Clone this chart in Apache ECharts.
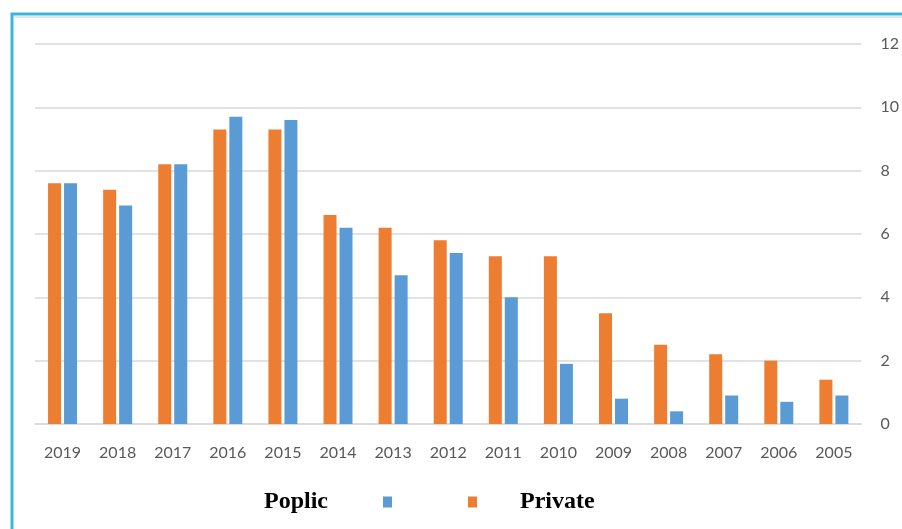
<!DOCTYPE html>
<html>
<head>
<meta charset="utf-8">
<script src="https://cdn.jsdelivr.net/npm/echarts@6/dist/echarts.min.js"></script>
<style>
    html, body { margin: 0; padding: 0; background: #fff; }
    #chart { width: 902px; height: 529px; }
</style>
</head>
<body>
<div id="chart"></div>
<script>
var years = ['2019', '2018', '2017', '2016', '2015', '2014', '2013', '2012', '2011', '2010', '2009', '2008', '2007', '2006', '2005'];
var privateVals = [7.6, 7.4, 8.2, 9.3, 9.3, 6.6, 6.2, 5.8, 5.3, 5.3, 3.5, 2.5, 2.2, 2.0, 1.4];
var poplicVals = [7.6, 6.9, 8.2, 9.7, 9.6, 6.2, 4.7, 5.4, 4.0, 1.9, 0.8, 0.4, 0.9, 0.7, 0.9];
var yTicks = [0, 2, 4, 6, 8, 10, 12];

var orange = '#ED7D31';
var blue = '#5B9BD5';

var legendText = {
    fontFamily: 'Liberation Serif',
    fontWeight: 'bold',
    fontSize: 24,
    color: '#000'
};

var myChart = echarts.init(document.getElementById('chart'));
myChart.setOption({
    backgroundColor: '#fff',
    animation: false,
    graphic: [{
        type: 'rect',
        shape: { x: 12, y: 14, width: 1000, height: 1000 },
        style: { fill: 'none', stroke: '#3CB5DA', lineWidth: 3 },
        z: 100
    }, {
        type: 'line',
        shape: { x1: 14, y1: 17, x2: 902, y2: 17 },
        style: { stroke: '#e6e6e6', lineWidth: 2 }
    }],
    legend: [{
        data: ['Poplic'],
        left: 259,
        top: 485,
        align: 'right',
        icon: 'rect',
        itemWidth: 9,
        itemHeight: 11,
        itemGap: 0,
        textStyle: Object.assign({ padding: [0, 50, 0, 0] }, legendText)
    }, {
        data: ['Private'],
        left: 463,
        top: 485,
        align: 'left',
        icon: 'rect',
        itemWidth: 9,
        itemHeight: 11,
        textStyle: Object.assign({ padding: [0, 0, 0, 38] }, legendText)
    }],
    grid: {
        left: 35,
        right: 37,
        top: 44,
        bottom: 105,
        containLabel: false
    },
    xAxis: {
        type: 'category',
        data: years,
        axisLine: { lineStyle: { color: '#d9d9d9', width: 1.5 } },
        axisTick: { show: false },
        axisLabel: {
            color: '#595959',
            fontFamily: 'Lato',
            fontSize: 16,
            margin: 21
        }
    },
    yAxis: {
        type: 'value',
        position: 'right',
        min: yTicks[0],
        max: yTicks[yTicks.length - 1],
        interval: 2,
        axisLine: { show: false },
        axisTick: { show: false },
        splitLine: { lineStyle: { color: '#d9d9d9', width: 1.5 } },
        axisLabel: {
            color: '#595959',
            fontFamily: 'Lato',
            fontSize: 16,
            margin: 19
        }
    },
    series: [{
        name: 'Private',
        type: 'bar',
        data: privateVals,
        barWidth: 13,
        barGap: '23%',
        itemStyle: { color: orange }
    }, {
        name: 'Poplic',
        type: 'bar',
        data: poplicVals,
        barWidth: 13,
        itemStyle: { color: blue }
    }]
});
</script>
</body>
</html>
